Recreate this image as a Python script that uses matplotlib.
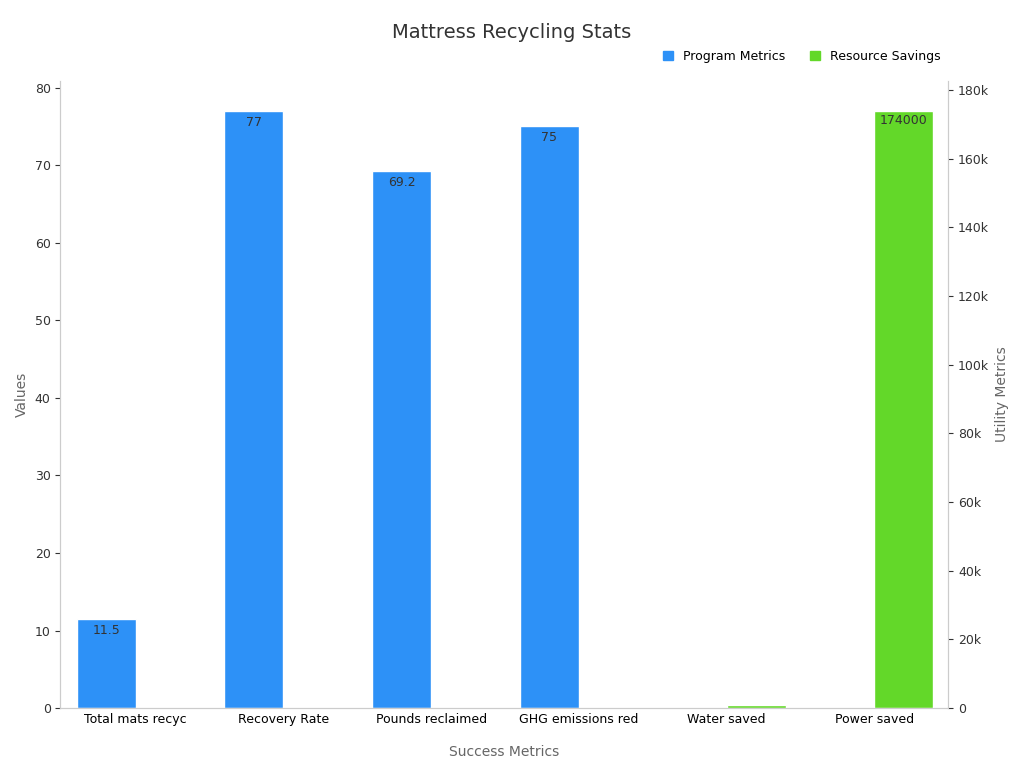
import matplotlib.pyplot as plt
import numpy as np
from matplotlib.patches import Patch

categories = ["Total mats recyc", "Recovery Rate", "Pounds reclaimed", "GHG emissions red", "Water saved", "Power saved"]
program_values = [11.5, 77, 69.2, 75, None, None]
savings_values = [None, None, None, None, 1000, 174000]

fig, ax = plt.subplots(figsize=[10.24, 7.68], dpi=100)
ax2 = ax.twinx()
x = np.arange(len(categories))
w = 0.4

for i, v in enumerate(program_values):
    if v is not None:
        ax.bar(x[i] - w / 2, v, w, color="#2d91f7", edgecolor="white")
        ax.text(x[i] - w / 2, v - 0.6, str(v), ha="center", va="top", fontsize=9, color="#333333")
for i, v in enumerate(savings_values):
    if v is not None:
        ax2.bar(x[i] + w / 2, v, w, color="#63d829", edgecolor="white")
        ax2.text(x[i] + w / 2, v - 1000, str(v), ha="center", va="top", fontsize=9,
                 color="#333333", clip_on=True)

ax.set_ylim(0, 80.9)
ax2.set_ylim(0, 182700)
ax2.set_yticks(range(0, 180001, 20000))
ax2.set_yticklabels(["0"] + ["{}k".format(t) for t in range(20, 181, 20)])
ax.set_xticks(x)
ax.set_xticklabels(categories, fontsize=9)
ax.set_xlim(-0.51, 5.5)
ax.tick_params(axis="y", labelsize=9, colors="#333333")
ax2.tick_params(axis="y", labelsize=9, colors="#333333")
ax.tick_params(axis="x", length=0)

for a in (ax, ax2):
    a.spines["top"].set_visible(False)
    for s in ("left", "right", "bottom"):
        a.spines[s].set_color("#cccccc")

ax.set_xlabel("Success Metrics", color="#666666", fontsize=10, labelpad=14)
ax.set_ylabel("Values", color="#666666", fontsize=10)
ax2.set_ylabel("Utility Metrics", color="#666666", fontsize=10)
fig.suptitle("Mattress Recycling Stats", fontsize=14, color="#333333", y=0.97)

fig.legend(handles=[Patch(color="#2d91f7", label="Program Metrics"), Patch(color="#63d829", label="Resource Savings")],
           loc="upper right", bbox_to_anchor=(0.93, 0.95), ncol=2, frameon=False, fontsize=9,
           handlelength=0.8, handleheight=0.8)

plt.subplots_adjust(left=0.059, right=0.926, top=0.895, bottom=0.078)
plt.savefig("out.png")
